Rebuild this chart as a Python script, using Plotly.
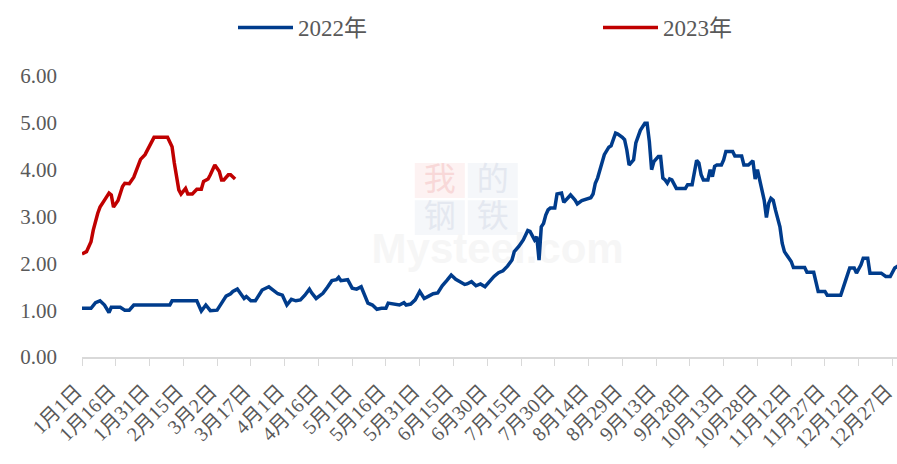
import plotly.graph_objects as go

# ---- data (day offset from Jan 1, value) ----
days_2022 = [0, 4, 6, 8, 10, 12, 13, 17, 19, 21, 23, 39, 40, 51, 53, 55, 57, 60, 62, 64,
             66, 67, 69, 71, 72, 73, 75, 77, 79, 80, 83, 85, 87, 89, 91, 93, 95, 97, 99, 101,
             102, 104, 107, 109, 111, 113, 114, 115, 118, 120, 122, 124, 126, 127, 129, 131, 133, 135, 136, 138,
             141, 143, 144, 146, 148, 150, 152, 154, 156, 158, 160, 162, 164, 166, 168, 170, 171, 173, 175, 177,
             179, 181, 183, 185, 187, 189, 191, 192, 194, 196, 198, 199, 201, 202, 203, 204, 205, 206, 207, 208,
             210, 211, 213, 214, 216, 217, 219, 220, 222, 224, 226, 227, 228, 229, 231, 232, 234, 235, 237, 238,
             240, 241, 242, 243, 245, 246, 248, 250, 251, 252, 253, 254, 256, 257, 258, 259, 260, 261, 262, 264,
             268, 269, 271, 272, 273, 274, 275, 276, 278, 279, 280, 281, 282, 284, 285, 286, 289, 290, 293, 294,
             296, 298, 299, 300, 301, 302, 303, 304, 305, 306, 307, 308, 310, 311, 312, 313, 315, 316, 321, 322,
             325, 327, 330, 331, 337, 339, 341, 343, 344, 346, 347, 349, 350, 355, 357, 359, 361, 363]
vals_2022 = [1.04, 1.04, 1.16, 1.20, 1.11, 0.95, 1.06, 1.06, 1.00, 1.00, 1.11, 1.11, 1.20, 1.20, 0.98, 1.11, 0.99, 1.00, 1.15, 1.30,
             1.35, 1.40, 1.45, 1.30, 1.25, 1.29, 1.20, 1.20, 1.37, 1.43, 1.50, 1.42, 1.35, 1.32, 1.11, 1.23, 1.20, 1.22, 1.32, 1.45,
             1.37, 1.25, 1.36, 1.49, 1.63, 1.65, 1.70, 1.63, 1.65, 1.47, 1.45, 1.50, 1.29, 1.15, 1.11, 1.02, 1.04, 1.04, 1.15, 1.13,
             1.11, 1.16, 1.11, 1.13, 1.22, 1.40, 1.25, 1.30, 1.35, 1.37, 1.52, 1.63, 1.75, 1.66, 1.61, 1.55, 1.56, 1.61, 1.52, 1.56,
             1.50, 1.61, 1.72, 1.80, 1.84, 1.94, 2.07, 2.25, 2.36, 2.50, 2.70, 2.68, 2.50, 2.57, 2.07, 2.78, 2.85, 3.03, 3.14, 3.18,
             3.18, 3.48, 3.50, 3.30, 3.41, 3.46, 3.35, 3.27, 3.34, 3.37, 3.40, 3.48, 3.71, 3.82, 4.17, 4.32, 4.48, 4.51, 4.78, 4.76,
             4.69, 4.64, 4.42, 4.10, 4.21, 4.57, 4.84, 4.99, 4.99, 4.60, 4.00, 4.17, 4.28, 4.28, 3.82, 3.78, 3.71, 3.80, 3.78, 3.60,
             3.60, 3.68, 3.68, 3.96, 4.20, 4.14, 3.89, 3.78, 3.78, 4.00, 3.85, 4.07, 4.10, 4.10, 4.21, 4.39, 4.39, 4.29, 4.29, 4.10,
             4.10, 4.19, 3.80, 4.00, 3.78, 3.64, 3.35, 2.98, 3.28, 3.39, 3.35, 3.14, 2.78, 2.43, 2.25, 2.18, 2.04, 1.91, 1.91, 1.81,
             1.81, 1.40, 1.40, 1.32, 1.32, 1.61, 1.90, 1.90, 1.79, 1.97, 2.11, 2.11, 1.79, 1.79, 1.72, 1.72, 1.90, 1.96]

days_2023 = [0, 2, 4, 5, 7, 8, 10, 12, 13, 14, 16, 18, 19, 21, 23, 25, 26, 28, 30, 32,
             38, 40, 41, 42, 43, 44, 46, 47, 49, 51, 53, 54, 56, 57, 59, 61, 62, 63, 65, 66, 68]
vals_2023 = [2.20, 2.25, 2.46, 2.71, 3.07, 3.20, 3.35, 3.50, 3.46, 3.20, 3.34, 3.64, 3.71, 3.70, 3.84, 4.07, 4.22, 4.32, 4.49, 4.69,
             4.69, 4.49, 4.14, 3.85, 3.57, 3.48, 3.60, 3.48, 3.48, 3.58, 3.58, 3.75, 3.80, 3.89, 4.10, 3.96, 3.78, 3.78, 3.89, 3.89, 3.80]

tick_days = list(range(0, 361, 15))
tick_labels = ["1月1日", "1月16日", "1月31日", "2月15日", "3月2日", "3月17日", "4月1日", "4月16日",
               "5月1日", "5月16日", "5月31日", "6月15日", "6月30日", "7月15日", "7月30日", "8月14日",
               "8月29日", "9月13日", "9月28日", "10月13日", "10月28日", "11月12日", "11月27日",
               "12月12日", "12月27日"]
y_ticks = [0, 1, 2, 3, 4, 5, 6]

FONT = "Liberation Serif, Noto Sans CJK SC, serif"
GREY = "#595959"

fig = go.Figure()
fig.add_trace(go.Scatter(x=days_2022, y=vals_2022, mode="lines", name="2022年",
                         line=dict(color="#003C8C", width=3.5)))
fig.add_trace(go.Scatter(x=days_2023, y=vals_2023, mode="lines", name="2023年",
                         line=dict(color="#C00000", width=3.5)))

# faint watermark (decoration, drawn below the data)
wm = [("我", 0.439, 0.628, "#FDF2F2", "#F8D8D8"),
      ("的", 0.504, 0.628, "#F5F7FA", "#E4E8F0"),
      ("钢", 0.439, 0.496, "#F5F7FA", "#E4E8F0"),
      ("铁", 0.504, 0.496, "#F5F7FA", "#E4E8F0")]
shapes = []
for ch, cx, cy, bg, fg in wm:
    shapes.append(dict(type="rect", xref="paper", yref="paper", layer="below",
                       x0=cx - 0.0307, x1=cx + 0.0307, y0=cy - 0.062, y1=cy + 0.062,
                       fillcolor=bg, line=dict(width=0),
                       label=dict(text=ch, font=dict(family="Noto Sans CJK SC", size=32, color=fg))))
shapes.append(dict(type="rect", xref="paper", yref="paper", layer="below",
                   x0=0.33, x1=0.69, y0=0.32, y1=0.48, line=dict(width=0),
                   label=dict(text="<b>Mysteel.com</b>",
                              font=dict(family="Liberation Sans, Arial", size=42, color="#F6F6F6"))))

fig.update_layout(
    width=897, height=464,
    margin=dict(l=82, r=0, t=76, b=107),
    paper_bgcolor="white", plot_bgcolor="white",
    font=dict(family=FONT, color=GREY, size=20),
    shapes=shapes,
    showlegend=True,
    legend=dict(orientation="h", xref="container", yref="container",
                x=233 / 897, xanchor="left", y=1 - 27.5 / 464, yanchor="middle",
                font=dict(family=FONT, size=23, color=GREY),
                entrywidth=295, entrywidthmode="pixels", itemwidth=55,
                bgcolor="rgba(0,0,0,0)"),
    xaxis=dict(range=[0, 362], tickmode="array", tickvals=tick_days, ticktext=tick_labels,
               tickangle=-45, ticks="outside", ticklen=7, tickcolor="#D9D9D9", tickwidth=1,
               showline=True, linecolor="#D9D9D9", linewidth=1.5,
               showgrid=False, zeroline=False, automargin=False,
               ticklabelstandoff=6, ticklabelshift=-6, ticklabeloverflow="allow",
               tickfont=dict(family=FONT, size=20, color=GREY)),
    yaxis=dict(range=[0, 6], tickmode="array", tickvals=y_ticks, tickformat=".2f",
               showgrid=False, zeroline=False, showline=False, automargin=False,
               ticklabelstandoff=24,
               tickfont=dict(family=FONT, size=21, color=GREY)),
)

fig.write_html("out.html", config={"displayModeBar": False},
               post_script="document.body.style.margin='0';")
